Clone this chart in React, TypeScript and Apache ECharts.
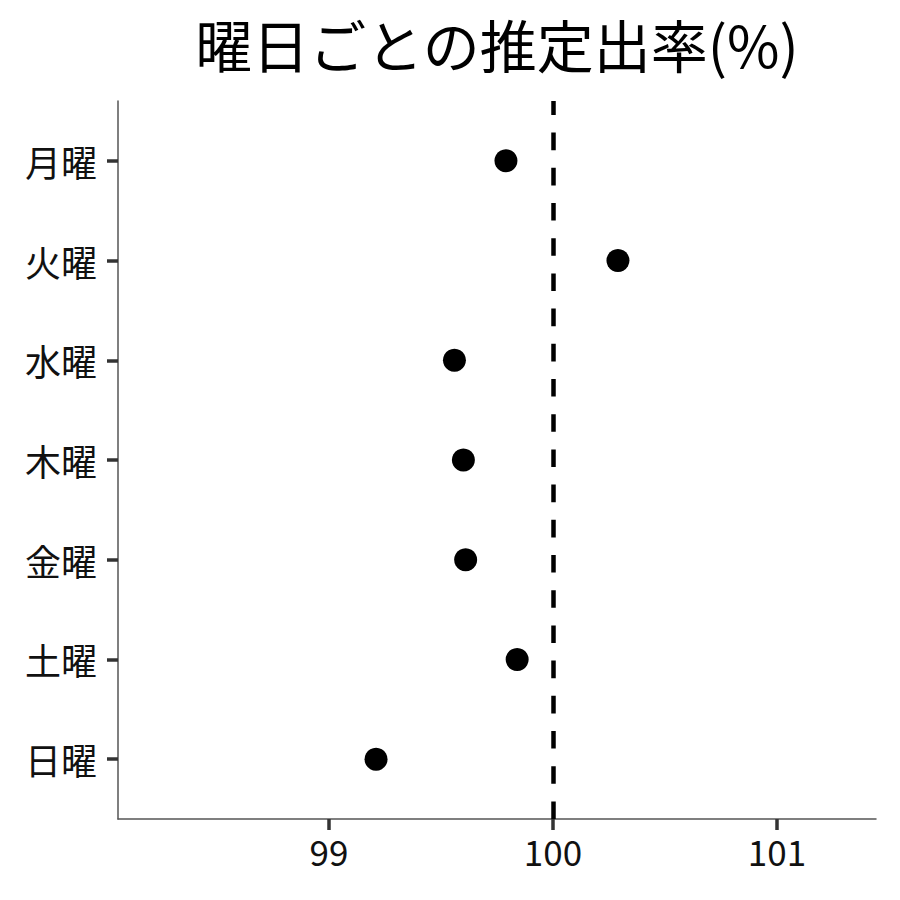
import React, { useEffect, useRef } from 'react';
import * as echarts from 'echarts';

// 曜日 (top to bottom) and the estimated payout rate for each
const days = ['月曜', '火曜', '水曜', '木曜', '金曜', '土曜', '日曜'];
const rates = [99.79, 100.29, 99.56, 99.6, 99.61, 99.84, 99.21];
const xTicks = [99, 100, 101];
const refLine = 100;

const FONT = '"Noto Sans CJK JP", "Noto Sans", sans-serif';
const Y_MIN = -0.6;
const Y_MAX = 6.6;

export default function App() {
  const chartRef = useRef<HTMLDivElement>(null);

  useEffect(() => {
    document.body.style.margin = '0';
    if (!chartRef.current) return;
    const chart = echarts.init(chartRef.current, undefined, { renderer: 'svg' });

    chart.setOption({
      animation: false,
      backgroundColor: '#fff',
      title: {
        text: '曜日ごとの推定出率(%)',
        left: 497,
        textAlign: 'center',
        top: 7,
        padding: 0,
        textStyle: { fontFamily: FONT, fontSize: 57, fontWeight: 'normal', color: '#000', lineHeight: 72 },
      },
      grid: { left: 118, right: 24, top: 101, bottom: 81, containLabel: false },
      xAxis: {
        type: 'value',
        min: 98.058,
        max: 101.442,
        axisLine: { show: true, onZero: false, lineStyle: { color: '#555', width: 1.5 } },
        axisTick: { show: true, length: 11, customValues: xTicks, lineStyle: { color: '#333', width: 3.5 } },
        axisLabel: {
          customValues: xTicks,
          margin: 14,
          fontFamily: FONT,
          fontSize: 35,
          color: '#111',
          formatter: (v: number) => String(Math.round(v)),
        },
        splitLine: { show: false },
      },
      yAxis: {
        type: 'value',
        inverse: true,
        min: Y_MIN,
        max: Y_MAX,
        axisLine: { show: true, onZero: false, lineStyle: { color: '#555', width: 1.5 } },
        axisTick: { show: true, length: 11, customValues: days.map((_, i) => i), lineStyle: { color: '#333', width: 3.5 } },
        axisLabel: {
          customValues: days.map((_, i) => i),
          margin: 21,
          fontFamily: FONT,
          fontSize: 36,
          color: '#111',
          formatter: (v: number) => days[Math.round(v)] ?? '',
        },
        splitLine: { show: false },
      },
      series: [
        {
          type: 'scatter',
          data: rates.map((r, i) => [r, i]),
          symbolSize: 23,
          itemStyle: { color: '#000', opacity: 1 },
          markLine: {
            silent: true,
            symbol: 'none',
            label: { show: false },
            lineStyle: { type: [17.6, 17.6], width: 4.5, color: '#000', opacity: 1 },
            data: [[{ coord: [refLine, Y_MAX] }, { coord: [refLine, Y_MIN] }]],
          },
        },
      ],
    });

    return () => chart.dispose();
  }, []);

  return <div ref={chartRef} style={{ width: 900, height: 900 }} />;
}
